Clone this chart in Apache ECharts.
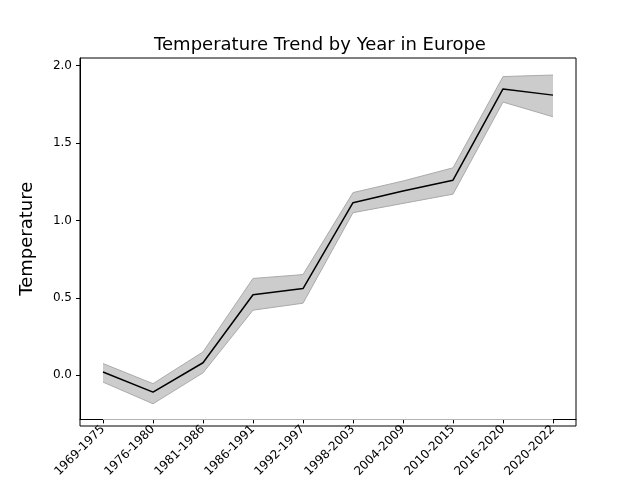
<!DOCTYPE html>
<html>
<head>
<meta charset="utf-8">
<script src="https://cdn.jsdelivr.net/npm/echarts@6/dist/echarts.min.js"></script>
<style>body{margin:0}#chart{width:640px;height:480px}</style>
</head>
<body>
<div id="chart"></div>
<script>
// Periods and temperature anomaly (mean with confidence band)
const periods = ['1969-1975', '1976-1980', '1981-1986', '1986-1991', '1992-1997',
  '1998-2003', '2004-2009', '2010-2015', '2016-2020', '2020-2022'];
const meanTemp = [0.02, -0.11, 0.08, 0.52, 0.56, 1.115, 1.19, 1.26, 1.85, 1.81];
const upperTemp = [0.075, -0.055, 0.15, 0.625, 0.65, 1.18, 1.255, 1.34, 1.93, 1.94];
const lowerTemp = [-0.045, -0.185, 0.015, 0.42, 0.465, 1.05, 1.11, 1.17, 1.765, 1.67];
const yTicks = [0, 0.5, 1, 1.5, 2];

const idx = periods.map((_, i) => i);
const chart = echarts.init(document.getElementById('chart'));

chart.setOption({
  animation: false,
  title: {
    text: 'Temperature Trend by Year in Europe',
    left: 'center', top: 31,
    textStyle: { fontFamily: 'DejaVu Sans', fontSize: 18, fontWeight: 'normal', color: '#000' }
  },
  grid: { left: 80, right: 64, top: 58, bottom: 54 },
  xAxis: {
    type: 'value', min: -0.46, max: 9.46,
    axisLine: { onZero: false, lineStyle: { color: '#000' } },
    axisTick: { show: true, customValues: idx, length: 4, lineStyle: { color: '#000' } },
    axisLabel: {
      customValues: idx, rotate: 45, color: '#000', fontFamily: 'DejaVu Sans', fontSize: 12,
      formatter: v => periods[Math.round(v)]
    },
    splitLine: { show: false }
  },
  yAxis: {
    type: 'value', min: -0.286, max: 2.05,
    name: 'Temperature', nameLocation: 'middle', nameGap: 44,
    nameTextStyle: { fontFamily: 'DejaVu Sans', fontSize: 18, color: '#000' },
    axisLine: { show: true, onZero: false, lineStyle: { color: '#000' } },
    axisTick: { show: true, customValues: yTicks, length: 4, lineStyle: { color: '#000' } },
    axisLabel: {
      customValues: yTicks, color: '#000', fontFamily: 'DejaVu Sans', fontSize: 12,
      formatter: v => v.toFixed(1)
    },
    splitLine: { show: false }
  },
  series: [
    {
      type: 'line', symbol: 'none', z: 1,
      data: idx.map(i => [i, upperTemp[i]]),
      lineStyle: { color: '#aaa', width: 1 },
      areaStyle: { color: '#cccccc', opacity: 1, origin: 'start' }
    },
    {
      type: 'line', symbol: 'none', z: 2,
      data: idx.map(i => [i, lowerTemp[i]]),
      lineStyle: { color: '#aaa', width: 1 },
      areaStyle: { color: '#ffffff', opacity: 1, origin: 'start' }
    },
    {
      type: 'line', symbol: 'none', z: 3,
      data: idx.map(i => [i, meanTemp[i]]),
      lineStyle: { color: '#000', width: 1.5 }
    }
  ],
  graphic: [{
    type: 'rect', z: 100, shape: { x: 80, y: 58, width: 496, height: 368 },
    style: { fill: 'none', stroke: '#000', lineWidth: 1 }, silent: true
  }]
});
</script>
</body>
</html>
